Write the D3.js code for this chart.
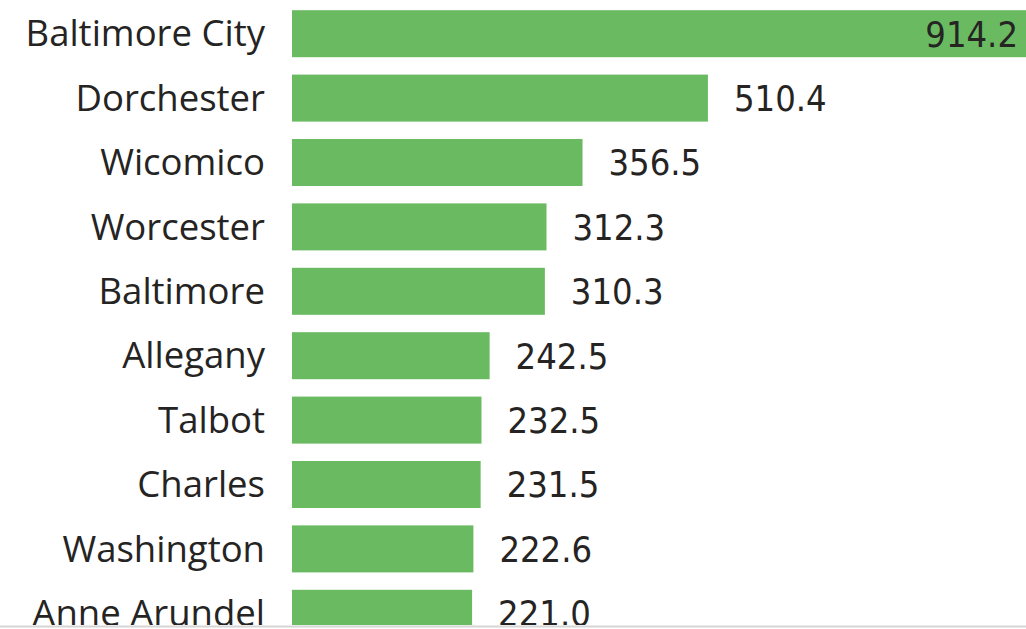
<!DOCTYPE html>
<html>
<head>
<meta charset="utf-8">
<script src="https://cdn.jsdelivr.net/npm/d3@7"></script>
<style>
  html, body { margin: 0; padding: 0; background: #fff; }
  svg { display: block; }
</style>
</head>
<body>
<div id="chart"></div>
<script>
(function (d3) {
    'use strict';

    var counties = ['Baltimore City', 'Dorchester', 'Wicomico', 'Worcester', 'Baltimore',
                    'Allegany', 'Talbot', 'Charles', 'Washington', 'Anne Arundel'];
    var rates = [914.2, 510.4, 356.5, 312.3, 310.3, 242.5, 232.5, 231.5, 222.6, 221.0];

    var width = 1026, height = 629,
        barLeft = 292, plotBottom = 625,
        barColor = '#6aba62', textColor = '#252423';

    var svg = d3.select('#chart').append('svg')
        .attr('width', width)
        .attr('height', height);

    svg.append('clipPath').attr('id', 'plotclip')
      .append('rect')
        .attr('x', 0).attr('y', 0)
        .attr('width', width).attr('height', plotBottom);

    var x = d3.scaleLinear().domain([0, 914.2]).range([barLeft, barLeft + 745]);
    var y = d3.scaleBand().domain(counties)
        .range([1.5, 10 * 64.4 + 1.5])
        .paddingInner(0.27).paddingOuter(0.135);

    var g = svg.append('g').attr('clip-path', 'url(#plotclip)');
    var rows = counties.map(function (c, i) { return { name: c, value: rates[i] }; });

    g.selectAll('rect.bar')
        .data(rows).enter()
      .append('rect')
        .attr('class', 'bar')
        .attr('x', x(0))
        .attr('y', function (d) { return y(d.name); })
        .attr('width', function (d) { return x(d.value) - x(0); })
        .attr('height', y.bandwidth())
        .style('fill', barColor);

    g.selectAll('text.cat')
        .data(rows).enter()
      .append('text')
        .attr('class', 'cat')
        .attr('x', 265)
        .attr('y', function (d) { return y(d.name) + y.bandwidth() / 2; })
        .attr('dy', '0.35em')
        .attr('text-anchor', 'end')
        .style('font-family', '"Open Sans", sans-serif')
        .style('font-size', '36.5px')
        .style('fill', textColor)
        .text(function (d) { return d.name; });

    g.selectAll('text.val')
        .data(rows).enter()
      .append('text')
        .attr('class', 'val')
        .attr('x', function (d) {
            var end = x(d.value);
            return end + 120 > width ? Math.min(end, width) - 8 : end + 26;
        })
        .attr('y', function (d) { return y(d.name) + y.bandwidth() / 2; })
        .attr('dy', '0.36em')
        .attr('text-anchor', function (d) { return x(d.value) + 120 > width ? 'end' : 'start'; })
        .style('font-family', '"DejaVu Sans Condensed", "DejaVu Sans", sans-serif')
        .style('font-size', '36px')
        .style('fill', textColor)
        .text(function (d) { return d3.format('.1f')(d.value); });

    svg.append('line')
        .attr('x1', 0).attr('x2', width)
        .attr('y1', 626.5).attr('y2', 626.5)
        .style('stroke', '#d6d6d6')
        .style('stroke-width', 2);

}(window.d3));
</script>
</body>
</html>
